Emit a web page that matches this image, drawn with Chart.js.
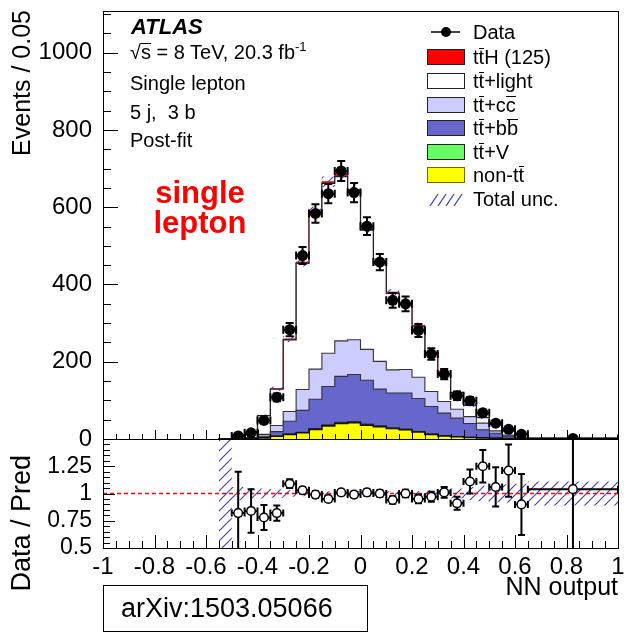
<!DOCTYPE html>
<html>
<head>
<meta charset="utf-8">
<script src="https://cdn.jsdelivr.net/npm/chart.js@4.4.1/dist/chart.umd.min.js"></script>
<style>
  body { margin: 0; background: #fff; width: 624px; height: 634px; overflow: hidden; position: relative;
         font-family: 'Liberation Sans', Arial, sans-serif; color: #000; }
  canvas { position: absolute; left: 0; }
  .t { position: absolute; white-space: nowrap; }
  .rot { transform-origin: 0 0; transform: rotate(-90deg); text-align: right; width: 300px; }
  .ov { position: relative; }
  .ov::before { content: ''; position: absolute; left: 0; right: 0; top: 0.08em; border-top: 1px solid #000; }
  .sw { position: absolute; left: 427px; width: 38px; height: 16px; box-sizing: border-box; border: 1px solid #222; }
  .lt { position: absolute; left: 473px; font-size: 20px; line-height: 24px; white-space: nowrap; }
</style>
</head>
<body>
<canvas id="main" width="624" height="460" style="top:0"></canvas>
<canvas id="ratio" width="624" height="214" style="top:420px"></canvas>

<div class="t rot" style="left:6px;top:310px;font-size:25px;line-height:30px">Events / 0.05</div>
<div class="t rot" style="left:6px;top:755px;font-size:27px;line-height:30px">Data / Pred</div>

<div class="t" style="left:131px;top:16px;font-style:italic;font-weight:bold;font-size:22px;line-height:22px">ATLAS</div>
<div class="t" style="left:130px;top:42px;font-size:20px;line-height:20px">√<span class="ov">s</span> = 8 TeV, 20.3 fb<sup style="font-size:13px;vertical-align:8px;line-height:0">-1</sup></div>
<div class="t" style="left:130px;top:73px;font-size:20px;line-height:20px">Single lepton</div>
<div class="t" style="left:130px;top:102px;font-size:20px;line-height:20px">5 j,&nbsp; 3 b</div>
<div class="t" style="left:130px;top:130px;font-size:20px;line-height:20px">Post-fit</div>
<div class="t" style="left:140px;top:178px;width:120px;text-align:center;color:#f00;font-weight:bold;font-size:31px;line-height:30px">single<br>lepton</div>

<svg style="position:absolute;left:427px;top:26px" width="38" height="12">
  <line x1="4" y1="6" x2="33" y2="6" stroke="#000" stroke-width="1.5"/>
  <circle cx="19" cy="6" r="5" fill="#000"/>
</svg>
<div class="lt" style="top:20px">Data</div>
<div class="sw" style="top:49px;background:#ff0000"></div>
<div class="lt" style="top:45px">t<span class="ov">t</span>H (125)</div>
<div class="sw" style="top:73px;background:#ffffff"></div>
<div class="lt" style="top:69px">t<span class="ov">t</span>+light</div>
<div class="sw" style="top:97px;background:#ccccff"></div>
<div class="lt" style="top:93px">t<span class="ov">t</span>+c<span class="ov">c</span></div>
<div class="sw" style="top:120px;background:#6666cc"></div>
<div class="lt" style="top:116px">t<span class="ov">t</span>+b<span class="ov">b</span></div>
<div class="sw" style="top:144px;background:#66ff66"></div>
<div class="lt" style="top:140px">t<span class="ov">t</span>+V</div>
<div class="sw" style="top:167px;background:#ffff00;border-color:#6b6b00"></div>
<div class="lt" style="top:163px">non-t<span class="ov">t</span></div>
<svg style="position:absolute;left:427px;top:191px" width="38" height="16">
  <g stroke="#3c3cb4" stroke-width="1.3">
    <line x1="3" y1="15" x2="11" y2="3"/><line x1="11" y1="15" x2="19" y2="3"/>
    <line x1="19" y1="15" x2="27" y2="3"/><line x1="27" y1="15" x2="35" y2="3"/>
  </g>
</svg>
<div class="lt" style="top:187px">Total unc.</div>

<div style="position:absolute;left:103px;top:585px;width:265px;height:47px;border:1px solid #000;box-sizing:border-box;font-size:27px;line-height:45px;padding-left:17px">arXiv:1503.05066</div>

<script>
// bin edges of the NN output histogram (last bin is wide, content given per 0.05)
const edges = [-0.55, -0.5, -0.45, -0.4, -0.35, -0.3, -0.25, -0.2, -0.15, -0.1, -0.05, 0,
  0.05, 0.1, 0.15, 0.2, 0.25, 0.3, 0.35, 0.4, 0.45, 0.5, 0.55, 0.6, 0.65, 1.0];

// post-fit predictions, events / 0.05
const nonTT = [0.1, 0.5, 1, 3, 7, 12, 16, 25, 34, 40, 42, 36, 32, 27, 24, 18, 12, 8, 6, 4, 3, 2, 1, 0.5, 0.1];
const ttV = [0, 0, 0, 0.2, 0.5, 1, 1.5, 2, 2.5, 3, 3, 2.5, 2, 2, 2, 1.5, 1, 1, 0.5, 0.5, 0.3, 0.2, 0.1, 0.1, 0];
const ttBB = [0.1, 0.5, 1.5, 3.8, 11.5, 33, 56.5, 76, 99.5, 119, 122, 113.5, 95, 90, 93, 85.5, 71, 58, 47.5, 35.5, 20.7, 12.8, 5.9, 1.4, 0.2];
const ttCC = [0.1, 0.5, 1.5, 5, 16, 25, 54, 78, 86, 92, 90, 80, 72, 60, 61, 55, 39, 30, 23, 18, 17, 6, 3, 1, 0.2];
const ttLight = [0.2, 8.4, 14.8, 48.5, 94, 186, 327, 405, 439.5, 425, 384.5, 309, 253.5, 198, 167, 131.5, 100, 69.5, 43, 29, 14.5, 16.5, 10.7, 9.8, 0.9];
const ttH = [0, 0.1, 0.2, 0.5, 1, 2, 3, 4, 4.5, 5, 4.5, 4, 3.5, 3, 3, 2.5, 2, 1.5, 1, 1, 0.5, 0.5, 0.3, 0.2, 0];
// relative total uncertainty
const totUnc = [0.6, 0.06, 0.05, 0.045, 0.04, 0.03, 0.025, 0.02, 0.02, 0.02, 0.02, 0.02, 0.02, 0.02, 0.02, 0.025, 0.03, 0.035, 0.045, 0.06, 0.07, 0.08, 0.085, 0.09, 0.11];

// data
const dataVals = [null, 8, 16, 48, 108, 283, 475, 584, 635, 694, 638, 551, 458, 359, 350, 281, 220, 168, 112, 99, 68, 41, 25, 12, 1.5];
const dataErr = [0, 3, 4, 7, 10, 17, 22, 24, 25, 26, 25, 23, 21, 19, 19, 17, 15, 13, 11, 10, 8, 6, 5, 3.5, 1.2];
const ratioVals = [null, 0.82, 0.84, 0.78, 0.82, 1.09, 1.03, 0.99, 0.95, 1.01, 0.99, 1.01, 1.0, 0.94, 1.0, 0.95, 0.97, 1.01, 0.91, 1.11, 1.25, 1.06, 1.21, 0.90, 1.04];
const ratioErr = [null, 0.38, 0.2, 0.115, 0.07, 0.04, 0.03, 0.03, 0.025, 0.025, 0.025, 0.03, 0.03, 0.035, 0.035, 0.04, 0.045, 0.05, 0.06, 0.11, 0.15, 0.18, 0.24, 0.28, 1.2];

// tick labels
const yMainTicks = [0, 200, 400, 600, 800, 1000];
const yRatioTicks = [0.5, 0.75, 1, 1.25];
const xTicks = [-1, -0.8, -0.6, -0.4, -0.2, 0, 0.2, 0.4, 0.6, 0.8, 1];

const FONT = "'Liberation Sans', Arial, sans-serif";

function stepPts(vals) {
  const pts = [{ x: edges[0], y: 0 }];
  vals.forEach((v, i) => pts.push({ x: edges[i], y: v }));
  const n = vals.length;
  pts.push({ x: edges[n], y: vals[n - 1] });
  pts.push({ x: edges[n], y: 0 });
  return pts;
}

function addArr(a, b) {
  return a.map((v, i) => v + b[i]);
}

function hatch() {
  const c = document.createElement('canvas');
  c.width = 10; c.height = 10;
  const g = c.getContext('2d');
  g.strokeStyle = '#3c3cb4';
  g.lineWidth = 1.1;
  g.beginPath();
  g.moveTo(0, 10); g.lineTo(10, 0);
  g.moveTo(-5, 5); g.lineTo(5, -5);
  g.moveTo(5, 15); g.lineTo(15, 5);
  g.stroke();
  return g.createPattern(c, 'repeat');
}

function fixY(s) {
  s.width = 103;
  s.paddingTop = 0;
  s.paddingBottom = 0;
}

const errBars = {
  id: 'errBars',
  beforeDatasetDraw(chart, args, opts) {
    if (args.index !== opts.dsIndex) return;
    const { ctx, chartArea: a, scales: { x: xs, y: ys } } = chart;
    ctx.save();
    ctx.beginPath();
    ctx.rect(a.left, a.top, a.right - a.left, a.bottom - a.top);
    ctx.clip();
    ctx.strokeStyle = '#000';
    ctx.lineWidth = opts.lw;
    ctx.beginPath();
    opts.vals.forEach((v, i) => {
      if (v == null) return;
      const e = opts.errs[i];
      const xl = xs.getPixelForValue(edges[i]);
      const xr = xs.getPixelForValue(edges[i + 1]);
      const xc = xs.getPixelForValue((edges[i] + edges[i + 1]) / 2);
      const y = ys.getPixelForValue(v);
      const yt = ys.getPixelForValue(v + e);
      const yb = ys.getPixelForValue(v - e);
      const c = opts.cap;
      ctx.moveTo(xl, y); ctx.lineTo(xr, y);
      ctx.moveTo(xl, y - c); ctx.lineTo(xl, y + c);
      ctx.moveTo(xr, y - c); ctx.lineTo(xr, y + c);
      ctx.moveTo(xc, yt); ctx.lineTo(xc, yb);
      ctx.moveTo(xc - c, yt); ctx.lineTo(xc + c, yt);
      ctx.moveTo(xc - c, yb); ctx.lineTo(xc + c, yb);
    });
    ctx.stroke();
    ctx.restore();
  }
};

const frameTicks = {
  id: 'frameTicks',
  afterDatasetsDraw(chart, args, opts) {
    const { ctx, chartArea: a, scales: { x: xs, y: ys } } = chart;
    ctx.save();
    ctx.strokeStyle = '#000';
    ctx.lineWidth = 1;
    ctx.beginPath();
    for (let k = 0; k <= 40; k++) {
      const px = Math.round(xs.getPixelForValue(-1 + k * 0.05)) + 0.5;
      const len = k % 4 === 0 ? opts.xMaj : opts.xMin;
      ctx.moveTo(px, a.bottom); ctx.lineTo(px, a.bottom - len);
    }
    for (let k = 0; k <= opts.yN; k++) {
      const v = opts.y0 + k * opts.yStep;
      if (v > ys.max) break;
      const py = Math.round(ys.getPixelForValue(v)) + 0.5;
      const len = k % opts.yEvery === 0 ? opts.yMaj : opts.yMin;
      ctx.moveTo(a.left, py); ctx.lineTo(a.left + len, py);
    }
    ctx.stroke();
    ctx.strokeRect(Math.round(a.left) + 0.5, Math.round(a.top) + 0.5,
      Math.round(a.right - a.left), Math.round(a.bottom - a.top));
    ctx.restore();
  }
};

const centers = edges.slice(0, -1).map((e, i) => (e + edges[i + 1]) / 2);

// cumulative stacks, bottom to top
const c1 = nonTT;
const c2 = addArr(c1, ttV);
const c3 = addArr(c2, ttBB);
const c4 = addArr(c3, ttCC);
const c5 = addArr(c4, ttLight);
const c6 = addArr(c5, ttH);

function layer(vals, fillCol, lineCol, width, order) {
  return {
    data: stepPts(vals), stepped: 'before', fill: 'origin',
    backgroundColor: fillCol, borderColor: lineCol, borderWidth: width,
    pointRadius: 0, order: order
  };
}

const pat = hatch();

new Chart(document.getElementById('main'), {
  type: 'line',
  data: {
    datasets: [
      layer(c6, '#ff0000', '#ff0000', 1, 10),
      layer(c5, '#ffffff', '#222222', 1.3, 9),
      layer(c4, '#ccccff', '#333333', 1.1, 8),
      layer(c3, '#6666cc', '#333333', 1.1, 7),
      layer(c2, '#66ff66', '#333333', 1.1, 6),
      layer(c1, '#ffff00', '#111111', 1.6, 5),
      { data: stepPts(c6.map((v, i) => v * (1 + totUnc[i]))), stepped: 'before', fill: false,
        borderWidth: 0, borderColor: 'rgba(0,0,0,0)', pointRadius: 0, order: 4 },
      { data: stepPts(c6.map((v, i) => v * (1 - totUnc[i]))), stepped: 'before', fill: '-1',
        backgroundColor: pat, borderWidth: 0, borderColor: 'rgba(0,0,0,0)', pointRadius: 0, order: 3 },
      { data: centers.map((x, i) => ({ x, y: dataVals[i] })).filter(p => p.y != null),
        showLine: false, pointRadius: 5.5, pointBackgroundColor: '#000', pointBorderColor: '#000',
        pointBorderWidth: 0, order: 0 }
    ]
  },
  options: {
    responsive: false, animation: false, devicePixelRatio: 1,
    layout: { padding: { top: 11, right: 6, bottom: 21, left: 0 } },
    plugins: {
      legend: { display: false }, tooltip: { enabled: false },
      errBars: { dsIndex: 8, vals: dataVals, errs: dataErr, lw: 2, cap: 4 },
      frameTicks: { xMaj: 9, xMin: 5, y0: 0, yStep: 50, yN: 30, yEvery: 4, yMaj: 15, yMin: 8 }
    },
    scales: {
      x: { type: 'linear', min: -1, max: 1, display: false },
      y: {
        min: 0, max: 1108,
        afterFit: fixY,
        afterBuildTicks: s => { s.ticks = yMainTicks.map(v => ({ value: v })); },
        grid: { display: false, drawTicks: false }, border: { display: false },
        ticks: { padding: 11, color: '#000', font: { size: 24, family: FONT },
          callback: v => String(v) }
      }
    }
  },
  plugins: [errBars, frameTicks]
});

new Chart(document.getElementById('ratio'), {
  type: 'line',
  data: {
    datasets: [
      { data: stepPts(totUnc.map(u => 1 + u)), stepped: 'before', fill: false,
        borderWidth: 0, borderColor: 'rgba(0,0,0,0)', pointRadius: 0, order: 4 },
      { data: stepPts(totUnc.map(u => 1 - u)), stepped: 'before', fill: '-1',
        backgroundColor: pat, borderWidth: 0, borderColor: 'rgba(0,0,0,0)', pointRadius: 0, order: 3 },
      { data: [{ x: -1, y: 1 }, { x: 1, y: 1 }], borderColor: '#ff0000', borderWidth: 1.4,
        borderDash: [4, 3], pointRadius: 0, fill: false, order: 1 },
      { data: centers.map((x, i) => ({ x, y: ratioVals[i] })).filter(p => p.y != null),
        showLine: false, pointRadius: 4.3, pointBackgroundColor: '#fff', pointBorderColor: '#000',
        pointBorderWidth: 1.5, order: 0 }
    ]
  },
  options: {
    responsive: false, animation: false, devicePixelRatio: 1,
    layout: { padding: { top: 19, right: 6, bottom: 0, left: 0 } },
    plugins: {
      legend: { display: false }, tooltip: { enabled: false },
      errBars: { dsIndex: 3, vals: ratioVals, errs: ratioErr, lw: 2, cap: 3.5 },
      frameTicks: { xMaj: 13, xMin: 7, y0: 0.5, yStep: 0.05, yN: 20, yEvery: 5, yMaj: 12, yMin: 7 }
    },
    scales: {
      x: {
        type: 'linear', min: -1, max: 1,
        afterFit: s => { s.height = 86; s.paddingLeft = 0; s.paddingRight = 0; },
        afterBuildTicks: s => { s.ticks = xTicks.map(v => ({ value: v })); },
        grid: { display: false, drawTicks: false }, border: { display: false },
        ticks: { padding: 5, color: '#000', autoSkip: false, maxRotation: 0,
          font: { size: 24, family: FONT },
          callback: v => String(Math.round(v * 10) / 10) },
        title: { display: true, text: 'NN output', align: 'end', color: '#000',
          font: { size: 25, family: FONT }, padding: { top: 0, bottom: 31 } }
      },
      y: {
        min: 0.5, max: 1.5,
        afterFit: fixY,
        afterBuildTicks: s => { s.ticks = yRatioTicks.map(v => ({ value: v })); },
        grid: { display: false, drawTicks: false }, border: { display: false },
        ticks: { padding: 11, color: '#000', font: { size: 23, family: FONT },
          callback: v => String(v) }
      }
    }
  },
  plugins: [errBars, frameTicks]
});
</script>
</body>
</html>
